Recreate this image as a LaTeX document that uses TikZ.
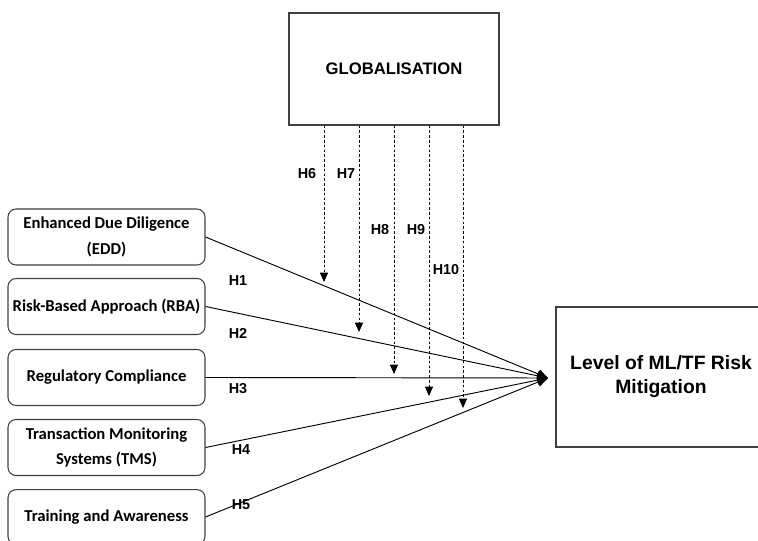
\documentclass[tikz,border=0pt]{standalone}
\usepackage{fontspec}
\setmainfont{Liberation Sans}
\newfontfamily\boxfont{Carlito}
\usetikzlibrary{arrows.meta}
\tikzset{
  factor/.style={draw=black!75, rounded corners=6pt, line width=0.8pt,
    minimum width=147.75pt, minimum height=42pt, align=center,
    font=\boxfont\bfseries\fontsize{12.5}{19}\selectfont},
  bigbox/.style={draw=black!75, line width=0.8pt, minimum width=157.5pt, align=center},
  hlab/.style={font=\bfseries\fontsize{10.8}{12}\selectfont},
  link/.style={line width=0.7pt, -{Triangle[width=7pt,length=8pt]}},
  moder/.style={line width=0.7pt, dash pattern=on 2pt off 1.6pt,
    -{Triangle[width=6pt,length=7pt]}}
}
\begin{document}
\begin{tikzpicture}[x=0.75pt,y=-0.75pt]
      \useasboundingbox (0,0) rectangle (758,541);
      \clip (0,0) rectangle (758,541);
      % boxes
      \node[bigbox, minimum height=84pt, font=\bfseries\fontsize{12.5}{14}\selectfont]
        (glob) at (394,69) {GLOBALISATION};
      \node[bigbox, minimum height=105pt, font=\bfseries\fontsize{14.5}{18}\selectfont]
        (level) at (661,377) {Level of ML/TF Risk\\Mitigation};
      \node[factor] (edd) at (106.5,237) {Enhanced Due Diligence\\(EDD)};
      \node[factor] (rba) at (106.5,306.5) {Risk-Based Approach (RBA)};
      \node[factor] (reg) at (106.5,377.5) {Regulatory Compliance};
      \node[factor] (tms) at (106.5,447.5) {Transaction Monitoring\\Systems (TMS)};
      \node[factor, minimum height=41pt] (train) at (106.5,517) {Training and Awareness};
      \coordinate (tip) at (548,378);
      % direct paths
      \draw[link] (edd.east) -- (tip);
      \draw[link] (rba.east) -- (tip);
      \draw[link] (reg.east) -- (tip);
      \draw[link] (tms.east) -- (tip);
      \draw[link] (train.east) -- (tip);
      \node[hlab] (h1) at (238,281) {H1};
      \node[hlab] (h2) at (238,333) {H2};
      \node[hlab] (h3) at (238,389) {H3};
      \node[hlab] (h4) at (241,450) {H4};
      \node[hlab] (h5) at (241,505) {H5};
      % moderation
      \coordinate (m6) at (324,282);
      \coordinate (m7) at (359,332);
      \coordinate (m8) at (394,374);
      \coordinate (m9) at (429,396);
      \coordinate (m10) at (463,408);
      \draw[moder] (glob.south -| m6) -- (m6);
      \draw[moder] (glob.south -| m7) -- (m7);
      \draw[moder] (glob.south -| m8) -- (m8);
      \draw[moder] (glob.south -| m9) -- (m9);
      \draw[moder] (glob.south -| m10) -- (m10);
      \node[hlab] (h6) at (307,174) {H6};
      \node[hlab] (h7) at (346,174) {H7};
      \node[hlab] (h8) at (380,230) {H8};
      \node[hlab] (h9) at (416,230) {H9};
      \node[hlab] (h10) at (446,270) {H10};
    \end{tikzpicture}
\end{document}
